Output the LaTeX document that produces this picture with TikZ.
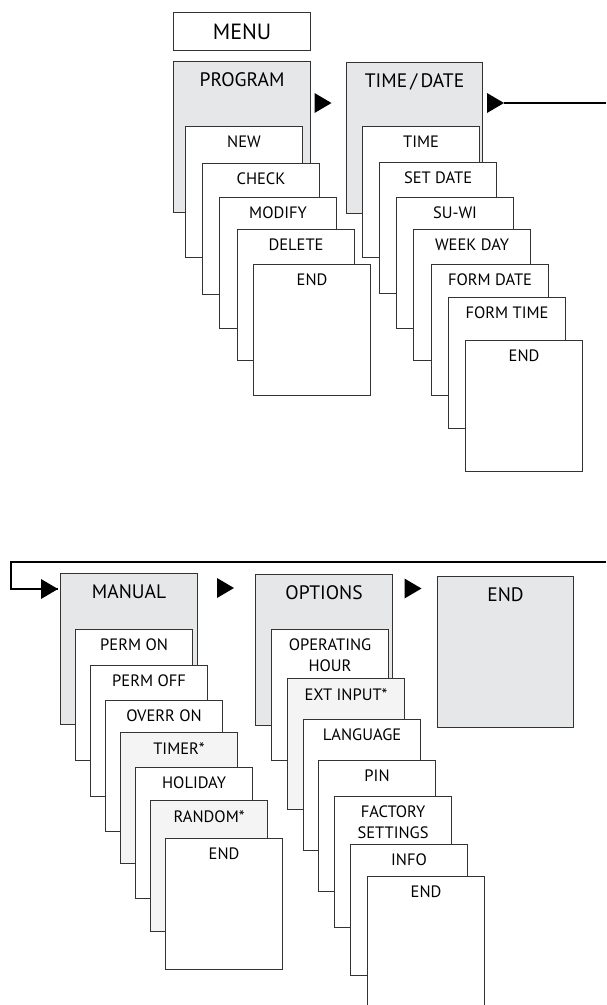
\documentclass[tikz,border=0pt]{standalone}
\usepackage{fontspec}
\setmainfont{PT Sans}
\usetikzlibrary{positioning}
\definecolor{lightgrey}{HTML}{E6E7E8}
\definecolor{palegrey}{HTML}{F4F4F4}
\tikzstyle{box}=[draw=black!80, line width=1.1pt, anchor=north west, inner sep=0pt]
\tikzstyle{menu}=[box, fill=lightgrey, minimum width=137pt, minimum height=151pt]
\tikzstyle{item}=[box, fill=white, minimum width=117pt, minimum height=131pt]
\tikzstyle{item2}=[item, fill=palegrey]
\tikzstyle{flow}=[line width=1.8pt]
\tikzset{
  head/.style={label={[anchor=north, yshift=-11pt, inner sep=0pt,
      font=\fontsize{19.5}{23}\selectfont]north:#1}},
  sub/.style={label={[anchor=north, yshift=-10pt, inner sep=0pt, align=center,
      font=\fontsize{16.5}{21}\selectfont]north:#1}},
  tri/.pic={
    \fill (-8.5,-10) -- (8.5,0) -- (-8.5,10) -- cycle;
    \coordinate (-tip) at (8.5,0);
  }
}

\begin{document}
\begin{tikzpicture}[x=1pt, y=-1pt, on grid]
  \useasboundingbox (0,0) rectangle (606,1005);

  % top row
  \node[box, fill=white, minimum width=137pt, minimum height=38pt,
    font=\fontsize{22}{26}\selectfont] (menu) at (173,12) {MENU};

  \node[menu, head=PROGRAM] (prog) at (173,61) {};
  \node[item, sub=NEW] (new) at (185,126) {};
  \node[item, sub=CHECK, below right=37pt and 17pt of new] (check) {};
  \node[item, sub=MODIFY, below right=34pt and 17pt of check] (modify) {};
  \node[item, sub=DELETE, below right=32pt and 18pt of modify] (delete) {};
  \node[item, sub=END, below right=35pt and 16pt of delete] (progend) {};

  \node[menu, minimum width=136pt, head=TIME\,/\,DATE] (td) at (346,62) {};
  \node[item, sub=TIME] (time) at (362,126) {};
  \node[item, sub=SET DATE, below right=36pt and 17pt of time] (setdate) {};
  \node[item, sub=SU-WI, below right=35pt and 17pt of setdate] (suwi) {};
  \node[item, sub=WEEK DAY, below right=32pt and 17pt of suwi] (weekday) {};
  \node[item, sub=FORM DATE, below right=35pt and 18pt of weekday] (formdate) {};
  \node[item, sub=FORM TIME, below right=33pt and 17pt of formdate] (formtime) {};
  \node[item, sub=END, below right=43pt and 17pt of formtime] (tdend) {};

  \pic (arr1) at (323,103) {tri};
  \pic (arr2) at (495.5,103) {tri};
  \coordinate (out) at (606,103);
  \draw[flow] (arr2-tip) -- (out);

  % bottom row
  \coordinate (in) at (606,562);
  \coordinate (corner) at (11,562);
  \pic (arr3) at (49.5,589) {tri};
  \draw[flow] (in) -- (corner) |- (arr3-tip);

  \node[menu, head=MANUAL] (manual) at (60,573) {};
  \node[item, sub=PERM ON] (permon) at (75,629) {};
  \node[item, sub=PERM OFF, below right=36pt and 15pt of permon] (permoff) {};
  \node[item, sub=OVERR ON, below right=35pt and 15pt of permoff] (overr) {};
  \node[item2, sub=TIMER*, below right=32pt and 15pt of overr] (timer) {};
  \node[item, sub=HOLIDAY, below right=35pt and 15pt of timer] (holiday) {};
  \node[item2, sub=RANDOM*, below right=33pt and 15pt of holiday] (random) {};
  \node[item, sub=END, below right=38pt and 15pt of random] (manend) {};

  \pic (arr4) at (225.5,588) {tri};

  \node[menu, head=OPTIONS] (options) at (255,574) {};
  \node[item, sub={OPERATING\\HOUR}] (ophour) at (271,629) {};
  \node[item2, sub=EXT INPUT*, below right=49pt and 16pt of ophour] (extin) {};
  \node[item, sub=LANGUAGE, below right=41pt and 16pt of extin] (lang) {};
  \node[item, sub=PIN, below right=41pt and 15pt of lang] (pin) {};
  \node[item, sub={FACTORY\\SETTINGS}, below right=36pt and 16pt of pin] (factory) {};
  \node[item, sub=INFO, below right=48pt and 16pt of factory] (info) {};
  \node[item, sub=END, below right=32pt and 17pt of info] (optend) {};

  \pic (arr5) at (413,588.5) {tri};

  \node[menu, minimum width=136pt, head=END] (allend) at (437,576) {};
\end{tikzpicture}
\end{document}
